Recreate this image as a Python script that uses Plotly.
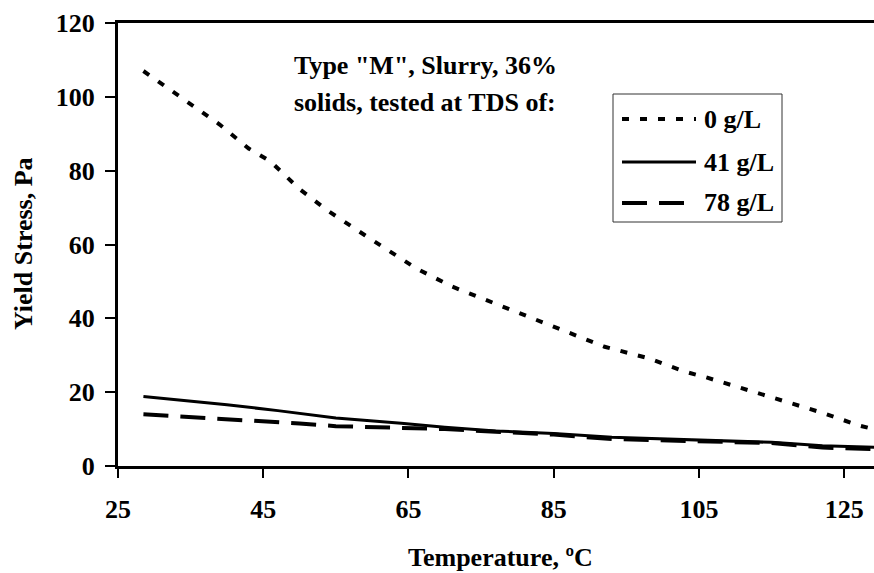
import plotly.graph_objects as go

# ---- data ----
temp_0 = [28.5, 34, 39, 43, 46, 50, 54, 59, 66, 71, 77, 82, 87, 92, 98, 103, 106, 111, 117, 122, 127, 130]
ys_0 = [107, 99.4, 92.5, 86, 82.5, 75, 69, 62.5, 53.6, 48.6, 44, 40, 36.1, 32.3, 29.2, 25.6, 24, 21, 17.6, 14.4, 11, 9.5]

temp_41 = [28.5, 40, 47, 55, 64, 70, 77, 85, 93, 105, 115, 122, 130]
ys_41 = [18.8, 16.6, 15.0, 13.0, 11.6, 10.5, 9.5, 8.8, 7.8, 7.0, 6.4, 5.5, 5.0]

temp_78 = [28.5, 40, 50, 55, 64, 70, 77, 85, 93, 105, 115, 122, 130]
ys_78 = [14.0, 12.8, 11.5, 10.8, 10.3, 10.0, 9.3, 8.5, 7.3, 6.8, 6.2, 5.0, 4.5]

series_names = ["0 g/L", "41 g/L", "78 g/L"]
x_ticks = [25, 45, 65, 85, 105, 125]
y_ticks = [0, 20, 40, 60, 80, 100, 120]
note_lines = ['Type "M", Slurry, 36%', 'solids, tested at TDS of:']
x_title = "Temperature, ºC"
y_title = "Yield Stress, Pa"

FONT = "Liberation Serif, Times New Roman, serif"
FS = 26

styles = [
    dict(width=4, dash="7px,11px"),
    dict(width=3, dash="solid"),
    dict(width=4, dash="25px,12px"),
]

fig = go.Figure()
for xs, ys, name, st in zip([temp_0, temp_41, temp_78], [ys_0, ys_41, ys_78], series_names, styles):
    fig.add_trace(go.Scatter(x=xs, y=ys, mode="lines", name=name,
                             line=dict(color="black", width=st["width"], dash=st["dash"]),
                             showlegend=False))

L, T, B, W, H = 118, 23, 107, 874, 573
pw = W - L
ph = H - T - B

def px(xp):
    return (xp - L) / pw

def py(yp):
    return (H - B - yp) / ph

fnt = dict(family=FONT, size=FS, color="black", weight="bold")

fig.update_layout(
    width=W, height=H,
    margin=dict(l=L, r=0, t=T, b=B, pad=0),
    paper_bgcolor="white", plot_bgcolor="white",
    font=fnt,
    showlegend=False,
)

fig.update_xaxes(
    range=[25, 129.1], tickmode="array", tickvals=x_ticks, ticktext=[str(v) for v in x_ticks],
    showgrid=False, zeroline=False, showline=True, linewidth=3, linecolor="black", mirror=True,
    ticks="outside", ticklen=9, tickwidth=1.5, tickcolor="black",
    tickfont=fnt, ticklabelstandoff=9,
)
fig.update_yaxes(
    range=[0, 120], tickmode="array", tickvals=y_ticks, ticktext=[str(v) for v in y_ticks],
    showgrid=False, zeroline=False, showline=True, linewidth=3, linecolor="black",
    ticks="outside", ticklen=10, tickwidth=1.5, tickcolor="black",
    tickfont=fnt, ticklabelstandoff=5,
)

ann = []
ann.append(dict(x=px(500), y=py(557), xref="paper", yref="paper", text=x_title, showarrow=False,
                xanchor="center", yanchor="middle", font=fnt))
ann.append(dict(x=px(23), y=py(244), xref="paper", yref="paper", text=y_title, showarrow=False, textangle=-90,
                xanchor="center", yanchor="middle", font=fnt))
for line, yc in zip(note_lines, [65, 103]):
    ann.append(dict(x=px(292), y=py(yc), xref="paper", yref="paper", text=line, showarrow=False,
                    xanchor="left", yanchor="middle", font=fnt))

# custom legend box
shapes = [dict(type="rect", xref="paper", yref="paper", x0=px(613), x1=px(782), y0=py(222), y1=py(94),
               line=dict(color="#333333", width=1), fillcolor="white", layer="above")]
for name, st, yc in zip(series_names, styles, [119, 162, 203]):
    shapes.append(dict(type="line", xref="paper", yref="paper", x0=px(622), x1=px(696), y0=py(yc), y1=py(yc),
                       line=dict(color="black", width=st["width"], dash=st["dash"]), layer="above"))
    ann.append(dict(x=px(702), y=py(yc), xref="paper", yref="paper", text=name, showarrow=False,
                    xanchor="left", yanchor="middle", font=fnt))

fig.update_layout(annotations=ann, shapes=shapes)
fig.write_html("out.html")
